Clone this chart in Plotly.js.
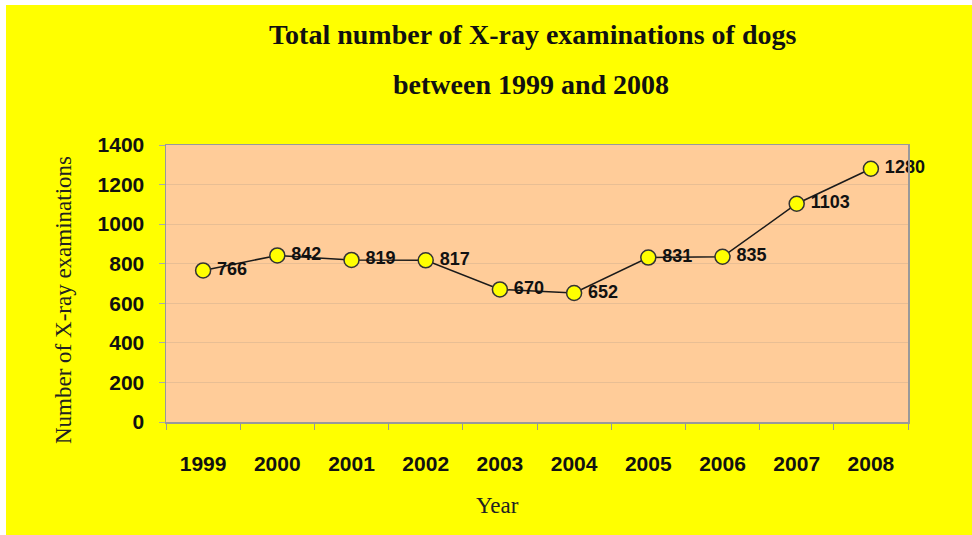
<!DOCTYPE html>
<html><head><meta charset="utf-8">
<script src="https://cdn.plot.ly/plotly-3.0.1.min.js"></script>
<style>
html,body{margin:0;padding:0;background:#fff;width:972px;height:535px;overflow:hidden}
#chart{position:absolute;left:6px;top:5px;width:966px;height:530px}
</style></head>
<body><div id="chart"></div>
<script>
const years = ['1999','2000','2001','2002','2003','2004','2005','2006','2007','2008'];
const exams = [766, 842, 819, 817, 670, 652, 831, 835, 1103, 1280];
const yTicks = [0, 200, 400, 600, 800, 1000, 1200, 1400];
const titleLines = ['Total number of X-ray examinations of dogs', 'between 1999 and 2008'];
const xTitle = 'Year';
const yTitle = 'Number of X-ray examinations';

const sans = 'Liberation Sans, Arial, sans-serif';
const serif = 'Liberation Serif, Times New Roman, serif';

const trace = {
  x: years, y: exams, type: 'scatter', mode: 'lines+markers+text',
  text: exams.map(v => '\u2009' + v), textposition: 'middle right',
  textfont: {family: sans, size: 18, color: '#111', weight: 'bold'},
  line: {color: '#1a1a1a', width: 1.5},
  marker: {size: 15, color: '#FFFF00', line: {color: '#333', width: 1.5}},
  cliponaxis: false, hoverinfo: 'none'
};

const L = 160, R = 64, T = 140, B = 113, W = 966, H = 530;
const layout = {
  width: W, height: H,
  paper_bgcolor: '#FFFF00', plot_bgcolor: '#FFCC99',
  margin: {l: L, r: R, t: T, b: B},
  showlegend: false,
  xaxis: {
    type: 'category', range: [-0.5, 9.5], tickson: 'boundaries', ticks: 'outside', ticklen: 6, tickcolor: '#999',
    showgrid: false, showline: true, linecolor: '#999', linewidth: 1.5, mirror: true,
    tickfont: {family: sans, size: 21, color: '#111', weight: 'bold'},
    ticklabelstandoff: 22, zeroline: false
  },
  yaxis: {
    range: [0, 1400], tickvals: yTicks, ticktext: yTicks.map(String),
    ticks: 'outside', ticklen: 6, tickcolor: '#aaa',
    showgrid: true, gridcolor: '#E8BE94', gridwidth: 1.2,
    showline: true, linecolor: '#999', linewidth: 1.5, mirror: true, zeroline: false,
    tickfont: {family: sans, size: 21, color: '#111', weight: 'bold'},
    ticklabelstandoff: 10
  }
};

const plotW = W - L - R, plotH = H - T - B;
function px(xp) { return (xp - 6 - L) / plotW; }
function py(yp) { return (H - B - (yp - 5)) / plotH; }
layout.annotations = [
  {text: titleLines[0], xref: 'paper', yref: 'paper', x: px(532), y: py(35), showarrow: false,
   font: {family: serif, size: 28, color: '#111', weight: 'bold'}, xanchor: 'center', yanchor: 'middle'},
  {text: titleLines[1], xref: 'paper', yref: 'paper', x: px(531), y: py(84), showarrow: false,
   font: {family: serif, size: 28, color: '#111', weight: 'bold'}, xanchor: 'center', yanchor: 'middle'},
  {text: xTitle, xref: 'paper', yref: 'paper', x: px(497), y: py(506), showarrow: false,
   font: {family: serif, size: 23, color: '#222'}, xanchor: 'center', yanchor: 'middle'},
  {text: yTitle, xref: 'paper', yref: 'paper', x: px(63), y: py(300), showarrow: false, textangle: -90,
   font: {family: serif, size: 23, color: '#222'}, xanchor: 'center', yanchor: 'middle'}
];

Plotly.newPlot('chart', [trace], layout, {displayModeBar: false, staticPlot: true});
</script>
</body></html>
